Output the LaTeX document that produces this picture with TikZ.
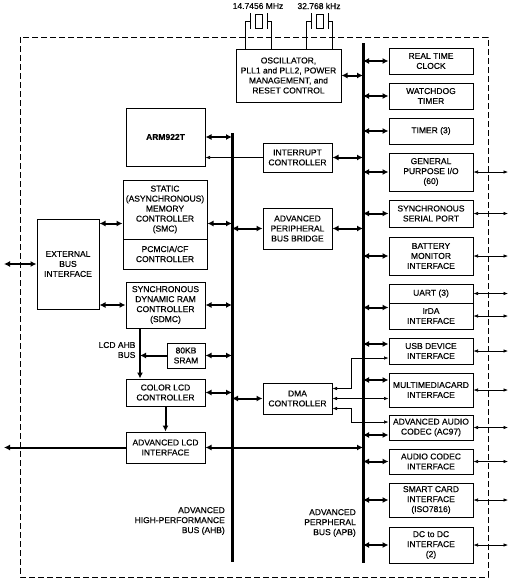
\documentclass[tikz,border=0pt]{standalone}
\usepackage{fontspec}
\setmainfont{Liberation Sans}[FakeBold=0.35]
\usetikzlibrary{arrows.meta}

\begin{document}
\begin{tikzpicture}[x=1pt, y=-1pt,
  blk/.style={draw, line width=1pt, align=center, inner sep=0pt, font=\fontsize{8.5}{10}\selectfont},
  lbl/.style={align=right, inner sep=0pt, font=\fontsize{8.5}{10}\selectfont},
  bus/.style={line width=3pt},
  dbl/.style={line width=2pt, {Latex[length=6pt,width=6pt]}-{Latex[length=6pt,width=6pt]}},
  one/.style={line width=2pt, -{Latex[length=6pt,width=6pt]}},
  ext/.style={line width=0.6pt, {Latex[length=4.5pt,width=3.5pt]}-{Latex[length=4.5pt,width=3.5pt]}},
  wire/.style={line width=0.7pt}]
\useasboundingbox (0,0) rectangle (512,582);

% chip outline
\draw[line width=1pt, dash pattern=on 6pt off 3pt] (20,37) rectangle (488,577);

% buses
\coordinate (ahbT) at (232,133);
\coordinate (ahbB) at (232,562);
\coordinate (apbT) at (363,43);
\coordinate (apbB) at (363,563);
\coordinate (lcdT) at (140,328);
\coordinate (extL) at (4,0);
\coordinate (extR) at (508,0);
\coordinate (dmaJ) at (351,0);
\draw[bus] (ahbT) -- (ahbB);
\draw[bus] (apbT) -- (apbB);

% crystals
\node[lbl, align=center] (xtalA) at (258,6) {14.7456 MHz};
\node[lbl, align=center] (xtalB) at (319,6) {32.768 kHz};
\draw[wire] (245,49) -- (245,21) -- (250,21);
\draw[wire] (250,13) -- (250,29);
\draw[wire] (255,14) rectangle (262,28);
\draw[wire] (267,13) -- (267,29);
\draw[wire] (267,21) -- (271,21) -- (271,49);
\draw[wire] (306,49) -- (306,21) -- (311,21);
\draw[wire] (311,13) -- (311,29);
\draw[wire] (316,14) rectangle (323,28);
\draw[wire] (328,13) -- (328,29);
\draw[wire] (328,21) -- (332,21) -- (332,49);

% left column
\node[blk, minimum width=105, minimum height=53] (osc) at (288.5,75.5) {OSCILLATOR,\\PLL1 and PLL2, POWER\\MANAGEMENT, and\\RESET CONTROL};
\node[blk, minimum width=79, minimum height=58, font=\fontsize{8.5}{10}\selectfont\bfseries] (arm) at (165.5,137) {ARM922T};
\node[blk, minimum width=84, minimum height=59] (smc) at (165,209.5) {STATIC\\(ASYNCHRONOUS)\\MEMORY\\CONTROLLER\\(SMC)};
\node[blk, minimum width=84, minimum height=30] (pcm) at (165,254) {PCMCIA/CF\\CONTROLLER};
\node[blk, minimum width=62, minimum height=90] (ebi) at (68,264) {EXTERNAL\\BUS\\INTERFACE};
\node[blk, minimum width=79, minimum height=46] (sdmc) at (165.5,305) {SYNCHRONOUS\\DYNAMIC RAM\\CONTROLLER\\(SDMC)};
\node[blk, minimum width=38, minimum height=25] (sram) at (186,355.5) {80KB\\SRAM};
\node[blk, minimum width=79, minimum height=27] (clc) at (165.5,392.5) {COLOR LCD\\CONTROLLER};
\node[blk, minimum width=79, minimum height=31] (ali) at (165.5,447.5) {ADVANCED LCD\\INTERFACE};
\node[lbl] (lcdlbl) at (117,350) {LCD AHB\\BUS};

% middle column
\node[blk, minimum width=69, minimum height=29] (intc) at (297.5,157.5) {INTERRUPT\\CONTROLLER};
\node[blk, minimum width=69, minimum height=41] (bridge) at (297.5,228.5) {ADVANCED\\PERIPHERAL\\BUS BRIDGE};
\node[blk, minimum width=69, minimum height=31] (dma) at (297.5,398.5) {DMA\\CONTROLLER};

% peripherals
\node[blk, minimum width=84, minimum height=26] (rtc) at (431,61) {REAL TIME\\CLOCK};
\node[blk, minimum width=84, minimum height=26] (wdt) at (431,96) {WATCHDOG\\TIMER};
\node[blk, minimum width=84, minimum height=26] (tmr) at (431,131) {TIMER (3)};
\node[blk, minimum width=84, minimum height=38] (gpio) at (431,172) {GENERAL\\PURPOSE I/O\\(60)};
\node[blk, minimum width=84, minimum height=27] (ssp) at (431,213.5) {SYNCHRONOUS\\SERIAL PORT};
\node[blk, minimum width=84, minimum height=38] (bmi) at (431,256) {BATTERY\\MONITOR\\INTERFACE};
\node[blk, minimum width=84, minimum height=19] (uart) at (431,293.5) {UART (3)};
\node[blk, minimum width=84, minimum height=26] (irda) at (431,316) {IrDA\\INTERFACE};
\node[blk, minimum width=84, minimum height=26] (usb) at (431,351) {USB DEVICE\\INTERFACE};
\node[blk, minimum width=84, minimum height=34] (mmc) at (431,390) {MULTIMEDIACARD\\INTERFACE};
\node[blk, minimum width=84, minimum height=25] (ac97) at (431,427.5) {ADVANCED AUDIO\\CODEC (AC97)};
\node[blk, minimum width=84, minimum height=25] (aci) at (431,461.5) {AUDIO CODEC\\INTERFACE};
\node[blk, minimum width=84, minimum height=34] (scard) at (431,500) {SMART CARD\\INTERFACE\\(ISO7816)};
\node[blk, minimum width=84, minimum height=36] (dcdc) at (431,545) {DC to DC\\INTERFACE\\(2)};

% bus labels
\node[lbl, anchor=east] (ahblbl) at (225,521) {ADVANCED\\HIGH-PERFORMANCE\\BUS (AHB)};
\node[lbl, anchor=east] (apblbl) at (356,523) {ADVANCED\\PERPHERAL\\BUS (APB)};

% AHB side
\coordinate (smcR) at ([yshift=-14pt]smc.east);
\coordinate (smcL) at ([yshift=-14pt]smc.west);
\draw[dbl] (arm.east) -- (arm.east -| ahbT);
\draw[dbl] (smcR) -- (smcR -| ahbT);
\draw[dbl] (smcL -| ebi.east) -- (smcL);
\draw[dbl] (sdmc.west -| ebi.east) -- (sdmc.west);
\draw[dbl] (sdmc.east) -- (sdmc.east -| ahbT);
\draw[dbl] (ebi.west -| extL) -- (ebi.west);
\draw[one, line width=2.6pt] (lcdT) -- (lcdT |- clc.north);
\draw[one] (sram.west) -- (sram.west -| lcdT);
\draw[dbl] (sram.east) -- (sram.east -| ahbT);
\draw[dbl] (clc.east) -- (clc.east -| ahbT);
\draw[one] (clc.south) -- (ali.north);
\draw[one] (ali.west) -- (ali.west -| extL);
\draw[dbl] (ali.east) -- (ali.east -| apbT);
\draw[line width=0.6pt, -{Latex[length=4.5pt,width=3.5pt]}] (intc.west) -- (intc.west -| arm.east);
\draw[dbl] (bridge.west -| ahbT) -- (bridge.west);
\draw[dbl] (dma.west -| ahbT) -- (dma.west);

% APB side
\draw[dbl] (osc.east) -- (osc.east -| apbT);
\draw[dbl] (intc.east) -- (intc.east -| apbT);
\draw[dbl] (bridge.east) -- (bridge.east -| apbT);
\coordinate (uartP) at ([yshift=-4pt]uart.south west);
\coordinate (usbP) at ([yshift=7pt]usb.west);
\coordinate (mmcP) at ([yshift=10pt]mmc.west);
\coordinate (ac97P) at ([yshift=-7.5pt]ac97.west);
\draw[dbl] (rtc.west) -- (rtc.west -| apbT);
\draw[dbl] (wdt.west) -- (wdt.west -| apbT);
\draw[dbl] (tmr.west) -- (tmr.west -| apbT);
\draw[dbl] (gpio.west) -- (gpio.west -| apbT);
\draw[dbl] (ssp.west) -- (ssp.west -| apbT);
\draw[dbl] (bmi.west) -- (bmi.west -| apbT);
\draw[dbl] (uartP) -- (uartP -| apbT);
\draw[dbl] (usbP) -- (usbP -| apbT);
\draw[dbl] (mmcP) -- (mmcP -| apbT);
\draw[dbl] (ac97P) -- (ac97P -| apbT);
\draw[dbl] (aci.west) -- (aci.west -| apbT);
\draw[dbl] (scard.west) -- (scard.west -| apbT);
\draw[dbl] (dcdc.west) -- (dcdc.west -| apbT);

% DMA requests
\coordinate (usbD) at ([yshift=-7pt]usb.west);
\coordinate (ac97D) at ([yshift=5.5pt]ac97.west);
\coordinate (dmaU) at ([yshift=10pt]dma.east);
\coordinate (dmaL) at ([yshift=-10pt]dma.east);
\draw[ext] (dmaU) -- (dmaU -| dmaJ) |- (usbD);
\draw[ext] (dma.east) -- (dma.east -| mmc.west);
\draw[ext] (dmaL) -- (dmaL -| dmaJ) |- (ac97D);

% pins
\draw[ext] (gpio.east) -- (gpio.east -| extR);
\draw[ext] (ssp.east) -- (ssp.east -| extR);
\draw[ext] (bmi.east) -- (bmi.east -| extR);
\draw[ext] (uart.east) -- (uart.east -| extR);
\draw[ext] (irda.east) -- (irda.east -| extR);
\draw[ext] (usb.east) -- (usb.east -| extR);
\draw[ext] (mmc.east) -- (mmc.east -| extR);
\draw[ext] (ac97.east) -- (ac97.east -| extR);
\draw[ext] (aci.east) -- (aci.east -| extR);
\draw[ext] (scard.east) -- (scard.east -| extR);
\draw[ext] (dcdc.east) -- (dcdc.east -| extR);
\end{tikzpicture}
\end{document}
